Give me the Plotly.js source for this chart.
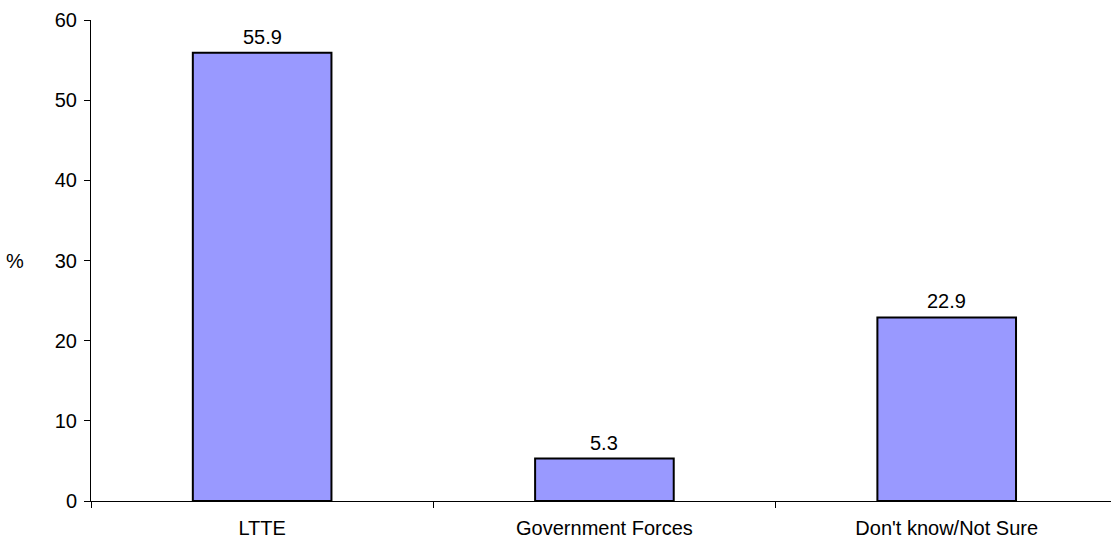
<!DOCTYPE html>
<html>
<head>
<meta charset="utf-8">
<script src="https://cdn.plot.ly/plotly-3.0.1.min.js"></script>
<style>html,body{margin:0;padding:0;background:#fff;}#chart{width:1111px;height:545px;}</style>
</head>
<body>
<div id="chart"></div>
<script>
const categories = ["LTTE", "Government Forces", "Don't know/Not Sure"];
const values = [55.9, 5.3, 22.9];
const labels = ["55.9", "5.3", "22.9"];
const yTicks = [0, 10, 20, 30, 40, 50, 60];

const font = {family: "Liberation Sans, Arial, sans-serif", size: 20, color: "#000"};

const trace = {
  type: "bar",
  x: categories,
  y: values,
  width: 0.405,
  marker: {color: "#9999FF", line: {color: "#000", width: 2}},
  hoverinfo: "none"
};

const annotations = categories.map((c, i) => ({
  x: c, y: values[i], xref: "x", yref: "y",
  text: labels[i], showarrow: false,
  yanchor: "bottom", yshift: 3, font: font
}));
annotations.push({
  xref: "paper", yref: "paper", x: -0.0745, y: 0.5,
  xanchor: "center", yanchor: "middle",
  text: "%", showarrow: false, font: font
});

const layout = {
  width: 1111, height: 545,
  margin: {l: 91, r: 0, t: 20, b: 44, pad: 0},
  paper_bgcolor: "#fff", plot_bgcolor: "#fff",
  showlegend: false,
  font: font,
  bargap: 0,
  xaxis: {
    type: "category",
    range: [-0.5, 2.48],
    showline: true, linecolor: "#000", linewidth: 1,
    ticks: "outside", tickson: "boundaries", ticklen: 6, tickcolor: "#000", tickwidth: 1,
    ticklabelstandoff: 9,
    showgrid: false, zeroline: false,
    tickfont: font
  },
  yaxis: {
    range: [0, 60],
    tickvals: yTicks, ticktext: yTicks.map(String),
    showline: true, linecolor: "#000", linewidth: 1,
    ticks: "outside", ticklen: 6, tickcolor: "#000", tickwidth: 1,
    ticklabelstandoff: 3,
    showgrid: false, zeroline: false,
    tickfont: font
  },
  annotations: annotations
};

Plotly.newPlot("chart", [trace], layout, {staticPlot: true, displayModeBar: false});
</script>
</body>
</html>
